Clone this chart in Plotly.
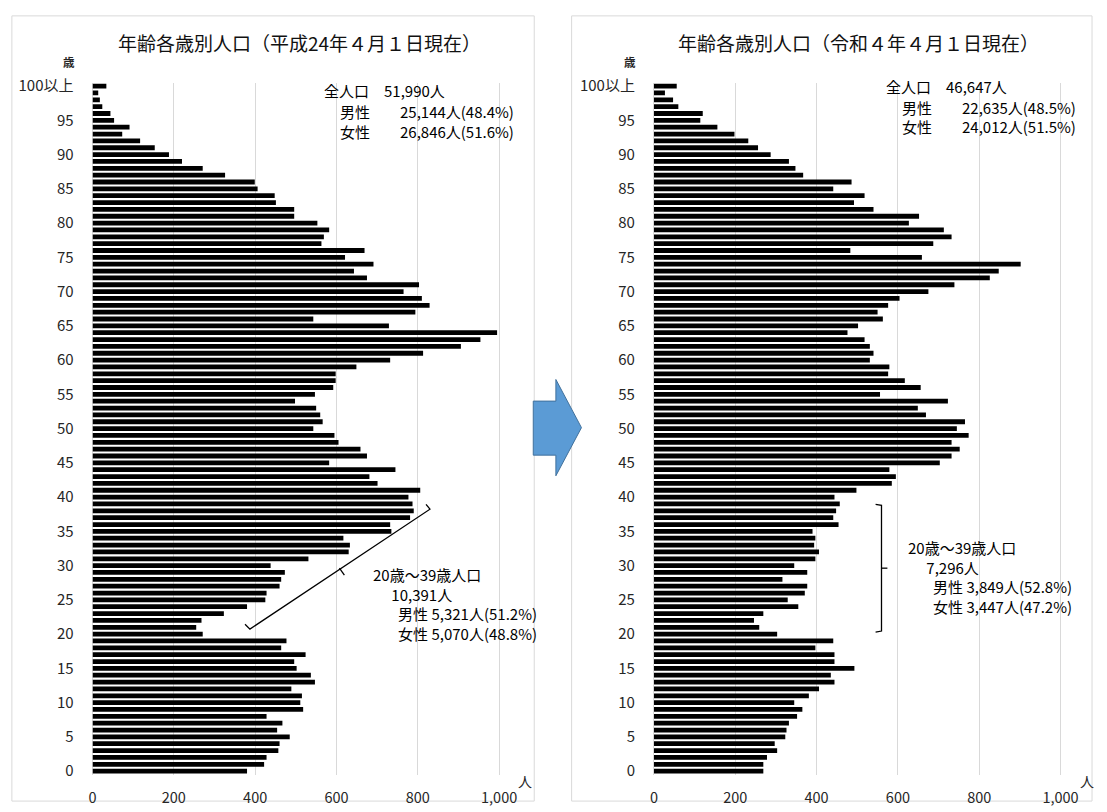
import plotly.graph_objects as go

W, H = 1107, 812
FONT = "Noto Sans CJK JP"

ages = list(range(0, 101))
age_tick_vals = list(range(0, 101, 5))
age_tick_text = [str(a) for a in range(0, 100, 5)] + ["100以上"]
x_tick_vals = [0, 200, 400, 600, 800, 1000]

# 平成24年4月1日現在 (age 0 .. 100以上)
pop_h24 = [
    380, 422, 428, 457, 460, 485, 454, 467, 428, 518,
    511, 515, 489, 547, 537, 502, 496, 524, 464, 477,
    271, 255, 268, 323, 380, 425, 428, 460, 464, 473,
    438, 531, 630, 633, 617, 735, 732, 781, 790, 787,
    777, 806, 701, 681, 745, 582, 675, 659, 605, 595,
    543, 566, 560, 550, 498, 547, 592, 598, 598, 649,
    732, 813, 906, 954, 995, 729, 543, 794, 829, 810,
    765, 803, 675, 643, 691, 621, 669, 563, 569, 582,
    553, 496, 496, 451, 448, 406, 399, 326, 271, 220,
    188, 153, 117, 73, 91, 53, 44, 24, 18, 14,
    34,
]

# 令和4年4月1日現在 (age 0 .. 100以上)
pop_r4 = [
    269, 269, 278, 303, 297, 323, 326, 332, 352, 365,
    345, 381, 406, 444, 435, 493, 444, 444, 397, 441,
    303, 259, 246, 269, 355, 329, 371, 377, 316, 377,
    345, 397, 406, 394, 397, 390, 454, 441, 448, 457,
    444, 498, 585, 595, 579, 703, 732, 752, 732, 774,
    745, 765, 669, 649, 723, 556, 656, 617, 576, 579,
    531, 540, 531, 518, 476, 502, 563, 550, 576, 604,
    675, 739, 826, 848, 902, 659, 483, 687, 732, 713,
    627, 652, 540, 492, 518, 441, 486, 367, 348, 332,
    287, 256, 232, 198, 156, 114, 120, 60, 47, 27,
    56,
]

titles = ["年齢各歳別人口（平成24年４月１日現在）", "年齢各歳別人口（令和４年４月１日現在）"]
totals_h24 = ["全人口　51,990人", "男性　　25,144人(48.4%)", "女性　　26,846人(51.6%)"]
totals_r4 = ["全人口　46,647人", "男性　　22,635人(48.5%)", "女性　　24,012人(51.5%)"]
young_h24 = ["20歳～39歳人口", "10,391人", "男性 5,321人(51.2%)", "女性 5,070人(48.8%)"]
young_r4 = ["20歳～39歳人口", "7,296人", "男性 3,849人(52.8%)", "女性 3,447人(47.2%)"]


def px(x):
    return x / W


def py(y):
    return 1 - y / H


X_MAX = 1010
PX_PER_UNIT = 413.3 / 1000
left0, right0 = 90.0, 660.7
plot_top, plot_bottom = 76, 780

fig = go.Figure()
fig.add_trace(go.Bar(x=pop_h24, y=ages, orientation="h", marker=dict(color="#000000", line=dict(width=0)),
                     xaxis="x", yaxis="y", hoverinfo="x+y"))
fig.add_trace(go.Bar(x=pop_r4, y=ages, orientation="h", marker=dict(color="#000000", line=dict(width=0)),
                     xaxis="x2", yaxis="y2", hoverinfo="x+y"))

grid = "#d9d9d9"
ytick_font = dict(family=FONT, size=15, color="#262626")
xtick_font = dict(family=FONT, size=14.5, color="#262626")


def xaxis_cfg(x0, anchor):
    return dict(
        domain=[px(x0), px(x0 + X_MAX * PX_PER_UNIT)], range=[0, X_MAX], anchor=anchor,
        tickvals=x_tick_vals, tickformat=",", showgrid=True, gridcolor=grid, gridwidth=1,
        zeroline=True, zerolinecolor=grid, zerolinewidth=1, showline=False,
        tickfont=xtick_font, ticks="", ticklabelstandoff=13, fixedrange=True,
    )


def yaxis_cfg(anchor):
    return dict(
        domain=[py(plot_bottom), py(plot_top)], range=[-0.5, 100.5], anchor=anchor,
        tickvals=age_tick_vals, ticktext=age_tick_text, showgrid=False, zeroline=False,
        tickfont=ytick_font, ticks="", ticklabelstandoff=18, fixedrange=True,
    )


fig.update_layout(
    width=W, height=H, margin=dict(l=0, r=0, t=0, b=0),
    paper_bgcolor="white", plot_bgcolor="white", showlegend=False, bargap=0.3,
    font=dict(family=FONT, color="#000000"),
    xaxis=xaxis_cfg(left0, "y"), yaxis=yaxis_cfg("x"),
    xaxis2=xaxis_cfg(right0, "y2"), yaxis2=yaxis_cfg("x2"),
)

shapes = []
# panel frames
for x0, x1 in [(8, 539), (577, 1106)]:
    shapes.append(dict(type="rect", xref="paper", yref="paper", x0=px(x0), x1=px(x1), y0=py(807), y1=py(8),
                       line=dict(color=grid, width=1), fillcolor="rgba(0,0,0,0)", layer="below"))


def path(points):
    return " ".join(("M" if i == 0 else "L") + f" {px(x):.5f},{py(y):.5f}" for i, (x, y) in enumerate(points))


# arrow between the panels
arrow = [(538, 400), (561, 400), (561, 378), (587, 427), (561, 476), (561, 455), (538, 455)]
shapes.append(dict(type="path", xref="paper", yref="paper", path=path(arrow) + " Z",
                   fillcolor="#5b9bd5", line=dict(color="#41719c", width=1)))

# brace marking ages 20-39 (left panel, slanted)
shapes.append(dict(type="path", xref="paper", yref="paper",
                   path=path([(429, 505), (433, 510), (250, 632), (245, 627)]),
                   line=dict(color="#000000", width=1.3)))
shapes.append(dict(type="path", xref="paper", yref="paper",
                   path=path([(341, 570), (346, 577)]), line=dict(color="#000000", width=1.3)))
# brace marking ages 20-39 (right panel)
shapes.append(dict(type="path", xref="paper", yref="paper",
                   path=path([(886, 505), (892, 506), (892, 634), (886, 635)]),
                   line=dict(color="#000000", width=1.3)))
shapes.append(dict(type="path", xref="paper", yref="paper",
                   path=path([(892, 570), (898, 570)]), line=dict(color="#000000", width=1.3)))

fig.update_layout(shapes=shapes)

ann = []


def text(x, y, s, size=15, xanchor="left", color="#000000", align="left"):
    ann.append(dict(xref="paper", yref="paper", x=px(x), y=py(y), text=s, showarrow=False,
                    xanchor=xanchor, yanchor="middle", align=align,
                    font=dict(family=FONT, size=size, color=color)))


text(300, 35, titles[0], size=19, xanchor="center", color="#111111")
text(869, 35, titles[1], size=19, xanchor="center", color="#111111")
text(66, 55, "<b>歳</b>", size=11.5, xanchor="center", color="#262626")
text(636, 55, "<b>歳</b>", size=11.5, xanchor="center", color="#262626")
text(530, 787, "人", size=14, xanchor="center", color="#262626")
text(1101, 787, "人", size=14, xanchor="center", color="#262626")

for s, xx, yy in zip(totals_h24, [323, 340, 340], [84, 105, 126]):
    text(xx, yy, s, size=15)
for s, xx, yy in zip(totals_r4, [895, 911, 911], [80, 101, 121]):
    text(xx, yy, s, size=15)

# 20-39 age block: one multi-line label, later lines indented
indent = ["", "\u3000\u00a0", "\u3000\u00a0\u00a0\u00a0", "\u3000\u00a0\u00a0\u00a0"]


def block(lines):
    return "<br>".join(i + s for i, s in zip(indent, lines))


text(373, 606, block(young_h24))
text(917, 579, block(young_r4))

fig.update_layout(annotations=ann)

fig.write_html("out.html")
